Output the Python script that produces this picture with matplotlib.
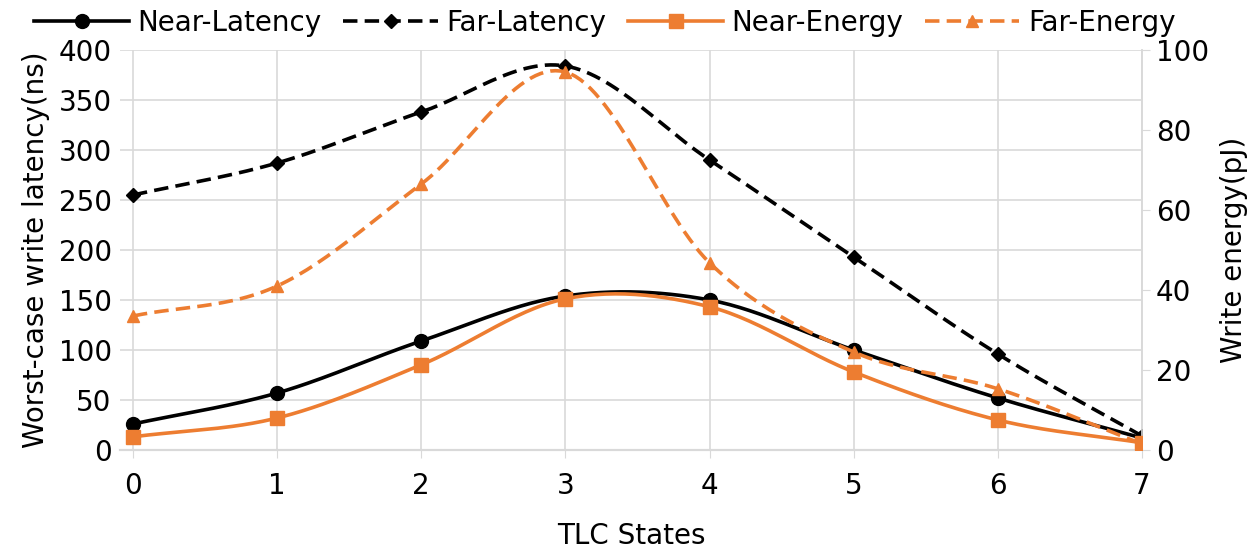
import matplotlib
matplotlib.use('Agg')
import matplotlib.pyplot as plt
import numpy as np

# data
TLC_STATES    = [0, 1, 2, 3, 4, 5, 6, 7]
NEAR_LATENCY  = [26, 57, 109, 154, 150, 100, 52, 12]     # ns
FAR_LATENCY   = [255, 287, 338, 384, 290, 193, 96, 14]   # ns
NEAR_ENERGY   = [3.3, 8.0, 21.3, 37.8, 35.8, 19.5, 7.5, 1.8]    # pJ
FAR_ENERGY    = [33.5, 41.0, 66.5, 94.5, 46.8, 24.5, 15.3, 1.5] # pJ

ORANGE = '#ED7D31'
GRID   = '#D9D9D9'

plt.rcParams['font.family'] = ['DejaVu Sans']


def smooth(x, y, n=30):
    # catmull-rom curve through the points, like excel's smoothed line
    x = np.asarray(x, float)
    y = np.asarray(y, float)
    px = np.concatenate([[2 * x[0] - x[1]], x, [2 * x[-1] - x[-2]]])
    py = np.concatenate([[2 * y[0] - y[1]], y, [2 * y[-1] - y[-2]]])
    out_x, out_y = [], []
    t = np.linspace(0, 1, n)
    for i in range(1, len(px) - 2):
        for p, out in ((px, out_x), (py, out_y)):
            p0, p1, p2, p3 = p[i - 1], p[i], p[i + 1], p[i + 2]
            seg = 0.5 * ((2 * p1) + (-p0 + p2) * t +
                         (2 * p0 - 5 * p1 + 4 * p2 - p3) * t ** 2 +
                         (-p0 + 3 * p1 - 3 * p2 + p3) * t ** 3)
            out.extend(seg if i == 1 else seg[1:])
    return np.array(out_x), np.array(out_y)


fig = plt.figure(figsize=(12.47, 5.49), dpi=100)
ax = fig.add_axes([120 / 1247, 1 - 450 / 549, (1142 - 120) / 1247, 400 / 549])
ax2 = ax.twinx()

DASH = (0, (4, 2))

def draw(a, y, color, ls, marker, ms, label):
    sx, sy = smooth(TLC_STATES, y)
    a.plot(sx, sy, color=color, ls=ls, lw=2.6, zorder=3)
    a.plot(TLC_STATES, y, ls='none', marker=marker, ms=ms, color=color, zorder=4)
    return plt.Line2D([], [], color=color, ls=ls, lw=2.6, marker=marker, ms=ms, label=label)

h1 = draw(ax, NEAR_LATENCY, 'black', '-', 'o', 10, 'Near-Latency')
h2 = draw(ax, FAR_LATENCY, 'black', DASH, 'D', 7, 'Far-Latency')
h3 = draw(ax2, NEAR_ENERGY, ORANGE, '-', 's', 10, 'Near-Energy')
h4 = draw(ax2, FAR_ENERGY, ORANGE, DASH, '^', 9, 'Far-Energy')

ax.set_xlim(-0.09, 7.0)
ax.set_ylim(0, 400)
ax.set_yticks(np.arange(0, 401, 50))
ax2.set_ylim(0, 100)
ax2.set_yticks(np.arange(0, 101, 20))
ax.set_xticks(TLC_STATES)

ax.grid(True, color=GRID, lw=1.2)
ax.set_axisbelow(True)
for a in (ax, ax2):
    for s in ('top', 'left'):
        a.spines[s].set_visible(False)
    a.spines['bottom'].set_color(GRID)
    a.spines['bottom'].set_linewidth(1.5)
    a.spines['right'].set_color(GRID)
    a.spines['right'].set_linewidth(1.2)

ax.tick_params(axis='y', length=0, labelsize=20, pad=6)
ax.tick_params(axis='x', length=6, color=GRID, labelsize=20, pad=10)
ax2.tick_params(axis='y', length=6, color=GRID, labelsize=20, pad=4)

ax.set_xlabel('TLC States', fontsize=20, labelpad=16)
ax.set_ylabel('Worst-case write latency(ns)', fontsize=20, labelpad=6)
ax2.set_ylabel('Write energy(pJ)', fontsize=20, labelpad=8)

fig.legend(handles=[h1, h2, h3, h4], loc='upper center', bbox_to_anchor=(0.485, 1.03),
           ncol=4, frameon=False, fontsize=20, handlelength=3.4, columnspacing=0.8,
           handletextpad=0.3)

fig.savefig('out.png', dpi=100)
